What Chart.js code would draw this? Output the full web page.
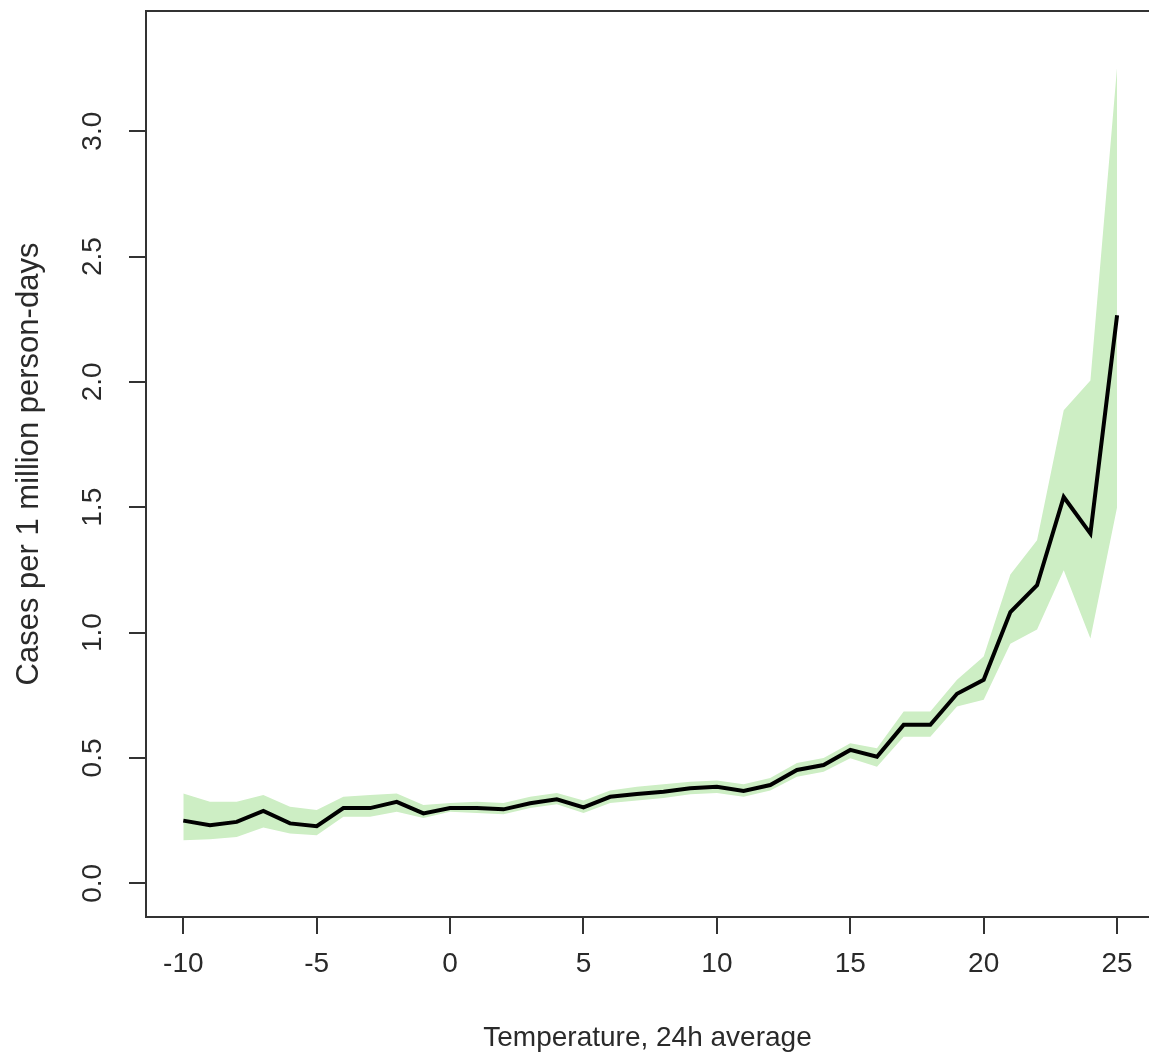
<!DOCTYPE html>
<html>
<head>
<meta charset="utf-8">
<script src="https://cdn.jsdelivr.net/npm/chart.js@4/dist/chart.umd.min.js"></script>
<style>
  html, body { margin: 0; padding: 0; background: #fff; }
  #wrap { width: 1149px; height: 1059px; }
</style>
</head>
<body>
<div id="wrap"><canvas id="chart"></canvas></div>
<script>
// temperatura media 24h (eje x)
const temps = [-10, -9, -8, -7, -6, -5, -4, -3, -2, -1, 0, 1, 2, 3, 4, 5, 6, 7,
               8, 9, 10, 11, 12, 13, 14, 15, 16, 17, 18, 19, 20, 21, 22, 23, 24, 25];

// casos por millón de persona-días
const rate  = [0.250, 0.232, 0.245, 0.289, 0.239, 0.228, 0.300, 0.300, 0.325, 0.279,
               0.300, 0.300, 0.295, 0.319, 0.335, 0.303, 0.345, 0.356, 0.365, 0.379,
               0.385, 0.368, 0.392, 0.452, 0.472, 0.532, 0.505, 0.632, 0.632, 0.756,
               0.812, 1.082, 1.189, 1.541, 1.395, 2.266];

// intervalo de confianza
const upper = [0.358, 0.325, 0.325, 0.352, 0.305, 0.292, 0.345, 0.352, 0.358, 0.312,
               0.320, 0.325, 0.320, 0.345, 0.360, 0.330, 0.370, 0.385, 0.395, 0.405,
               0.410, 0.395, 0.420, 0.480, 0.500, 0.559, 0.539, 0.685, 0.685, 0.812,
               0.905, 1.232, 1.368, 1.887, 2.006, 3.256];
const lower = [0.172, 0.176, 0.185, 0.223, 0.199, 0.192, 0.265, 0.265, 0.285, 0.260,
               0.285, 0.280, 0.275, 0.300, 0.315, 0.280, 0.320, 0.330, 0.340, 0.355,
               0.360, 0.345, 0.370, 0.425, 0.445, 0.499, 0.465, 0.585, 0.585, 0.705,
               0.732, 0.956, 1.012, 1.249, 0.976, 1.500];

const xTicks = [-10, -5, 0, 5, 10, 15, 20, 25];
const yTicks = [0, 0.5, 1, 1.5, 2, 2.5, 3];

const pts = arr => arr.map((v, i) => ({ x: temps[i], y: v }));

const FONT = "'Liberation Sans', Arial, sans-serif";
const INK  = '#2a2a2a';

// sin relleno extra alrededor de los ejes: el área se fija a mano
const noPad = s => { s.paddingTop = 0; s.paddingBottom = 0; s.paddingLeft = 0; s.paddingRight = 0; };

// marco estilo R (arriba, izquierda, abajo; el derecho queda fuera)
const boxPlugin = {
  id: 'box',
  afterDraw(chart) {
    const { ctx, chartArea: a } = chart;
    ctx.save();
    ctx.strokeStyle = '#333';
    ctx.lineWidth = 2;
    ctx.beginPath();
    ctx.moveTo(a.right + 10, a.top);
    ctx.lineTo(a.left, a.top);
    ctx.lineTo(a.left, a.bottom);
    ctx.lineTo(a.right + 10, a.bottom);
    ctx.stroke();
    ctx.restore();
  }
};

new Chart(document.getElementById('chart'), {
  type: 'line',
  data: {
    datasets: [
      {
        data: pts(rate),
        borderColor: '#000',
        borderWidth: 4,
        pointRadius: 0,
        tension: 0,
        fill: false,
        order: 0
      },
      {
        data: pts(upper),
        borderWidth: 0,
        borderColor: 'rgba(0,0,0,0)',
        backgroundColor: '#cdeec4',
        pointRadius: 0,
        tension: 0,
        fill: '+1',
        order: 1
      },
      {
        data: pts(lower),
        borderWidth: 0,
        borderColor: 'rgba(0,0,0,0)',
        pointRadius: 0,
        tension: 0,
        fill: false,
        order: 2
      }
    ]
  },
  options: {
    responsive: true,
    maintainAspectRatio: false,
    animation: false,
    layout: { padding: { top: 11, right: 0, bottom: 0, left: 0 } },
    plugins: {
      legend: { display: false },
      tooltip: { enabled: false }
    },
    scales: {
      x: {
        type: 'linear',
        min: -11.398,
        max: 26.196,
        afterBuildTicks: s => { s.ticks = xTicks.map(v => ({ value: v })); },
        afterFit: s => { s.height = 142; noPad(s); },
        border: { display: false },
        grid: { drawOnChartArea: false, drawTicks: true, tickLength: 17, color: '#333', lineWidth: 2 },
        ticks: { color: INK, font: { family: FONT, size: 28 }, padding: 13, maxRotation: 0 },
        title: {
          display: true,
          text: 'Temperature, 24h average',
          color: INK,
          font: { family: FONT, size: 28 },
          padding: { top: 0, bottom: 4 }
        }
      },
      y: {
        type: 'linear',
        min: -0.1344,
        max: 3.4794,
        afterBuildTicks: s => { s.ticks = yTicks.map(v => ({ value: v })); },
        afterFit: s => { s.width = 146; noPad(s); },
        border: { display: false },
        grid: { drawOnChartArea: false, drawTicks: true, tickLength: 17, color: '#333', lineWidth: 2 },
        ticks: {
          color: INK,
          font: { family: FONT, size: 28 },
          minRotation: 90,
          maxRotation: 90,
          crossAlign: 'center',
          padding: 16,
          callback: v => v.toFixed(1)
        },
        title: {
          display: true,
          text: 'Cases per 1 million person-days',
          color: INK,
          font: { family: FONT, size: 31 },
          padding: { top: 11, bottom: 0 }
        }
      }
    }
  },
  plugins: [boxPlugin]
});
</script>
</body>
</html>
